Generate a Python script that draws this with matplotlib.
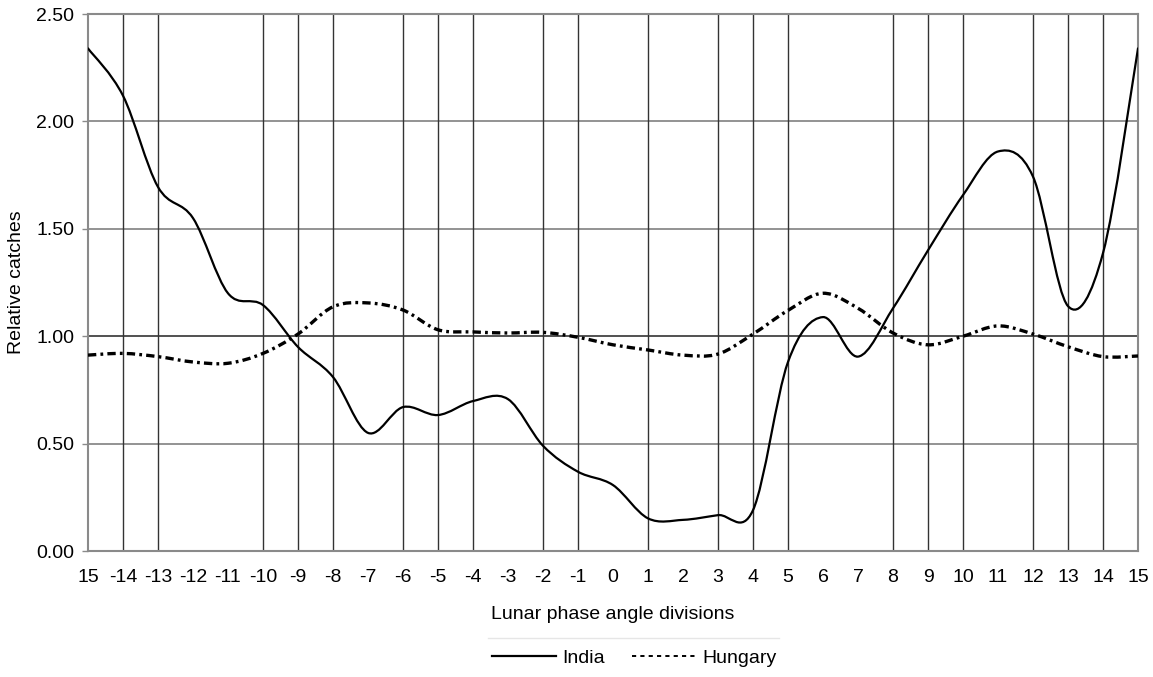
import numpy as np
import matplotlib
matplotlib.use('Agg')
import matplotlib.pyplot as plt
from matplotlib.path import Path
from matplotlib.patches import PathPatch
from matplotlib.lines import Line2D

plt.rcParams['font.family'] = ['Liberation Sans', 'DejaVu Sans']
plt.rcParams['lines.scale_dashes'] = False

# lunar phase angle divisions (first and last are both "15")
divisions = ['15', '-14', '-13', '-12', '-11', '-10', '-9', '-8', '-7', '-6', '-5', '-4', '-3',
             '-2', '-1', '0', '1', '2', '3', '4', '5', '6', '7', '8', '9', '10', '11', '12',
             '13', '14', '15']

india = [2.34, 2.12, 1.695, 1.55, 1.20, 1.145, 0.95, 0.81, 0.55, 0.67, 0.633, 0.698, 0.707,
         0.49, 0.369, 0.307, 0.152, 0.145, 0.167, 0.19, 0.88, 1.089, 0.905, 1.13, 1.40,
         1.657, 1.86, 1.743, 1.14, 1.387, 2.34]

hungary = [0.912, 0.92, 0.905, 0.88, 0.874, 0.92, 1.01, 1.137, 1.155, 1.122, 1.03, 1.02,
           1.015, 1.018, 0.995, 0.96, 0.936, 0.912, 0.917, 1.01, 1.12, 1.20, 1.13, 1.015,
           0.96, 1.0, 1.048, 1.01, 0.951, 0.905, 0.908]

# divisions whose vertical gridline is visible in the original
grid_divs = [1, 2, 5, 6, 7, 9, 10, 11, 13, 14, 16, 18, 19, 20, 23, 24, 25, 27, 28, 29]


def smooth_path(x, y):
    # cubic bezier through the points (excel-style smoothed line)
    pts = np.column_stack([x, y]).astype(float)
    verts = [pts[0]]
    codes = [Path.MOVETO]
    n = len(pts)
    for i in range(n - 1):
        p0 = pts[i - 1] if i > 0 else pts[i]
        p1 = pts[i]
        p2 = pts[i + 1]
        p3 = pts[i + 2] if i + 2 < n else pts[i + 1]
        c1 = p1 + (p2 - p0) / 6.0
        c2 = p2 - (p3 - p1) / 6.0
        verts += [c1, c2, p2]
        codes += [Path.CURVE4] * 3
    return Path(verts, codes)


fig = plt.figure(figsize=(11.53, 6.77), dpi=100)
ax = fig.add_axes([0.0763, 0.1861, 0.9107, 0.7932])

xs = np.arange(len(divisions))
ax.set_xlim(0, len(divisions) - 1)
ax.set_ylim(0, 2.5)

for g in [0.5, 1.5, 2.0]:
    ax.axhline(g, color='#8a8a8a', lw=1.3, zorder=1)
ax.axhline(1.0, color='#222222', lw=1.1, zorder=1)
for g in grid_divs:
    ax.axvline(g, color='#333333', lw=1.0, zorder=1)

hung_dash = (0, (6, 3, 2, 3))
ax.add_patch(PathPatch(smooth_path(xs, india), fill=False, edgecolor='black', lw=1.6,
                       zorder=3, capstyle='round'))
ax.add_patch(PathPatch(smooth_path(xs, hungary), fill=False, edgecolor='black', lw=2.4,
                       linestyle=hung_dash, zorder=3))

ax.set_xticks(xs)
ax.set_xticklabels(divisions)
ax.set_yticks([0, 0.5, 1.0, 1.5, 2.0, 2.5])
ax.set_yticklabels(['0.00', '0.50', '1.00', '1.50', '2.00', '2.50'])
ax.tick_params(axis='x', length=0, pad=13, labelsize=14)
ax.tick_params(axis='y', length=4, width=1, color='#8a8a8a', pad=6, labelsize=14)

for s in ax.spines.values():
    s.set_color('#8a8a8a')
    s.set_linewidth(1.5)

ax.set_xlabel('Lunar phase angle divisions', fontsize=14, labelpad=14)
ax.set_ylabel('Relative catches', fontsize=14, labelpad=8)

handles = [Line2D([], [], color='black', lw=1.6),
           Line2D([], [], color='black', lw=1.4, linestyle=(0, (3, 3)))]
fig.legend(handles, ['India', 'Hungary'], loc='center', bbox_to_anchor=(0.55, 0.028),
           ncol=2, frameon=False, fontsize=14, handlelength=3.3, columnspacing=1.4,
           handletextpad=0.3)
fig.add_artist(Line2D([0.423, 0.676], [0.058, 0.058], color='#e6e6e6', lw=1,
                      transform=fig.transFigure))

fig.savefig('out.png', dpi=100)
